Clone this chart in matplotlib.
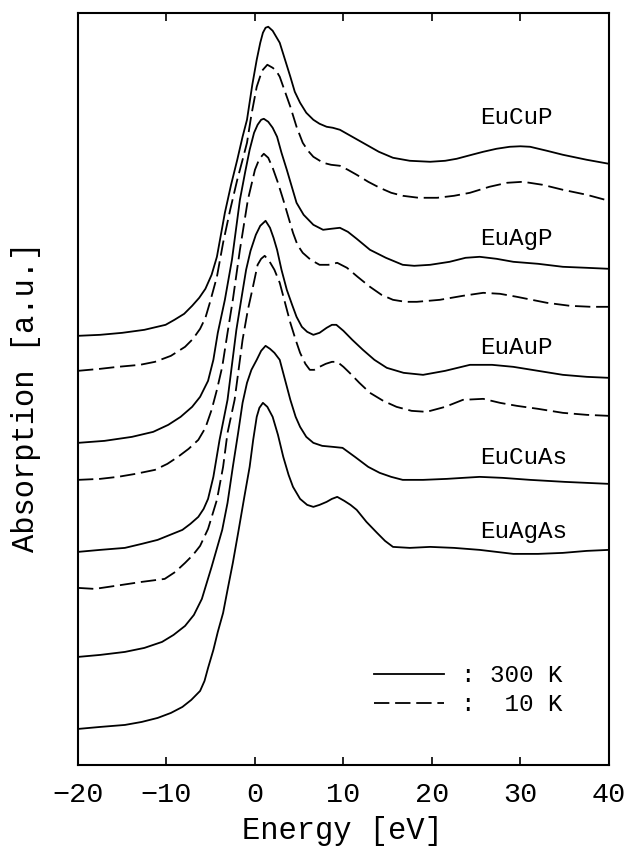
import matplotlib
matplotlib.use('Agg')
import matplotlib.pyplot as plt
from matplotlib.lines import Line2D

plt.rcParams['font.family'] = ['Liberation Mono', 'DejaVu Sans Mono']

# ── data (y in arbitrary units) ───────────────────────────────────────
compounds = ['EuCuP', 'EuAgP', 'EuAuP', 'EuCuAs', 'EuAgAs']
label_y = [647, 526, 417, 307, 233]

eucup_300_e = [-20, -17.5, -15, -12.5, -10.1, -9.1, -8, -7.1, -6.3, -5.6, -4.9, -4.3, -3.4, -2.7,
               -2.0, -1.4, -0.9, -0.3, 0.2, 0.6, 0.9, 1.2, 1.5, 2.0, 2.4, 2.8, 3.4, 4.0,
               4.5, 5.1, 5.8, 6.6, 7.3, 8.1, 8.8, 9.6, 10.8, 12.2, 14, 15.6, 17.5, 19.8,
               21.5, 22.8, 24.5, 25.8, 27.3, 28.8, 30, 31.1, 33, 34.8, 37.5, 40]
eucup_300_a = [429, 430, 432, 435, 440, 445, 451, 459, 467, 476, 490, 508, 552, 580,
               605, 628, 645, 680, 705, 722, 732, 737, 738, 734, 728, 722, 705, 688,
               673, 662, 652, 645, 641, 638, 637, 635, 629, 622, 613, 607, 604, 603,
               604, 606, 610, 613, 616, 618, 618.5, 618, 614, 610, 605, 601]

eucup_10_e = [-20, -17.5, -15.5, -13, -11.3, -9.5, -7.9, -7, -6.2, -5.6, -5.1, -4.3, -3.6, -2.8,
              -2, -1.4, -0.9, -0.4, 0.2, 0.8, 1.4, 2.0, 2.4, 2.8, 3.4, 4.0, 4.7, 5.4,
              6, 6.6, 7.7, 8.6, 9.6, 10.5, 11.5, 12.8, 14.1, 15.4, 16.7, 18.5, 20.6,
              22.5, 24.3, 26.5, 28.5, 30.3, 32.5, 34.8, 37.5, 40]
eucup_10_a = [394, 396, 398, 400, 403, 409, 418, 426, 436, 447, 462, 488, 522, 555,
              585, 605, 622, 650, 678, 694, 700, 697, 694, 688, 673, 658, 638, 622,
              614, 608, 602, 600, 599, 595, 590, 583, 577, 572, 569, 567, 567,
              569, 572, 578, 582, 583, 580, 575, 570, 564]

euagp_300_e = [-20, -17, -13.9, -11.5, -9.8, -8.4, -7.1, -6.2, -5.3, -4.7, -4.2, -3.4, -2.6, -1.7,
               -1.1, -0.6, -0.1, 0.3, 0.7, 1.0, 1.5, 2.0, 2.5, 3.0, 3.6, 4.2, 4.7, 5.5,
               6.6, 7.7, 8.6, 9.6, 10.5, 11.5, 13.0, 14.8, 16.7, 18, 19.8, 22, 23.8,
               25.4, 27.3, 29.2, 32, 34.8, 37.5, 40]
euagp_300_a = [322, 324, 328, 333, 340, 348, 358, 368, 384, 405, 432, 465, 505, 565,
               593, 615, 632, 640, 645, 646, 643, 637, 628, 612, 595, 577, 562, 550,
               540, 535, 536, 537, 533, 526, 515, 507, 500, 499, 500, 503, 507,
               508, 506, 503, 501, 498, 497, 496]

euagp_10_e = [-20, -17.5, -15.5, -13.5, -11.3, -9.9, -8.7, -7.5, -6.4, -5.6, -4.9, -4.3, -3.7,
              -3.1, -2.5, -1.7, -0.8, 0.0, 0.5, 1.0, 1.5, 2.0, 2.6, 3.2, 3.8, 4.3, 4.8,
              5.4, 6.3, 7.3, 8.3, 9.3, 10.4, 11.6, 13.0, 14.3, 15.6, 17, 18.3, 20.9,
              23.5, 25.8, 27.7, 29.6, 31.3, 33.0, 35.6, 38, 40]
euagp_10_a = [285, 286, 288, 291, 295, 301, 308, 316, 325, 337, 355, 375, 398,
              432, 465, 515, 565, 595, 606, 611, 607, 597, 582, 565, 547, 532, 520,
              512, 505, 500, 500, 502, 497, 488, 478, 470, 465, 463, 463, 465,
              469, 472, 471, 468, 465, 462, 459, 458, 458]

euaup_300_e = [-20, -17.5, -14.7, -12.8, -11.0, -9.6, -8.2, -7.3, -6.4, -5.8, -5.3, -4.7, -4.0,
               -3.1, -2.1, -1.5, -1.0, -0.5, 0.1, 0.6, 1.2, 1.7, 2.1, 2.5, 3.0, 3.6, 4.2,
               4.7, 5.3, 5.9, 6.6, 7.3, 8.1, 8.7, 9.2, 10.0, 11.0, 12.2, 13.5, 14.9,
               16.8, 19.0, 21.5, 24.3, 26.8, 29.2, 32, 34.8, 37.5, 40]
euaup_300_a = [213, 215, 217, 221, 225, 230, 235, 241, 248, 256, 266, 288, 325,
               365, 435, 468, 495, 514, 530, 539, 544, 537, 527, 515, 495, 475, 460,
               448, 438, 433, 430, 432, 437, 440, 440, 434, 425, 415, 405, 397,
               392, 390, 394, 400, 400, 398, 394, 390, 388, 387]

euaup_10_e = [-20, -18.1, -15.8, -12.8, -10.2, -9, -7.9, -7, -6.2, -5.3, -4.3, -3.6, -3.1,
              -2.3, -1.4, -0.8, -0.3, 0.3, 0.7, 1.1, 1.6, 2.2, 2.8, 3.4, 4.0, 4.6, 5.1,
              5.7, 6.2, 6.7, 7.3, 8.0, 8.7, 9.3, 10.0, 10.7, 11.8, 13.0, 14.5, 16.0,
              17.7, 19.4, 21.5, 23.5, 25.8, 27.7, 29.6, 32, 34.8, 37.5, 40]
euaup_10_a = [177, 176, 179, 183, 186, 193, 202, 210, 219, 236, 265, 298, 332,
              365, 425, 455, 475, 500, 506, 509, 504, 495, 482, 462, 442, 425, 412,
              401, 395, 395, 398, 401, 403, 403, 398, 392, 382, 372, 364, 358,
              354, 353, 358, 365, 366, 362, 359, 356, 352, 350, 349]

eucuas_300_e = [-20, -17.5, -14.7, -12.5, -10.5, -9.2, -7.9, -6.9, -6.0, -4.9, -3.7, -3.1, -2.5,
                -1.9, -1.4, -0.9, -0.4, 0.2, 0.7, 1.2, 1.7, 2.2, 2.8, 3.4, 4.0, 4.6, 5.1,
                5.8, 6.6, 7.6, 8.8, 9.9, 11.3, 12.8, 14.1, 15.4, 16.7, 19, 21.7, 23.5,
                25.4, 28, 31.1, 35, 40]
eucuas_300_a = [108, 110, 113, 117, 123, 130, 139, 150, 166, 198, 235, 262, 298,
                332, 362, 382, 395, 405, 414, 419, 416, 412, 405, 385, 365, 348, 338,
                328, 322, 319, 318, 317, 308, 298, 292, 288, 285, 285, 286, 287,
                288, 287, 285, 283, 281]

euagas_300_e = [-20, -17.5, -14.7, -12.8, -11.0, -9.5, -8.2, -7.2, -6.2, -5.7, -5.3, -4.7, -4.2,
                -3.6, -3.1, -2.5, -1.9, -1.2, -0.6, -0.2, 0.2, 0.5, 0.9, 1.4, 2.0, 2.6,
                3.2, 3.8, 4.3, 5.1, 5.9, 6.6, 7.3, 8.1, 8.7, 9.3, 10.1, 10.8, 11.5,
                12.6, 13.8, 14.7, 15.6, 17.5, 19.8, 22.5, 25.4, 27.3, 29.2, 32, 34.8,
                37.5, 40]
euagas_300_a = [36, 38, 40, 43, 47, 52, 58, 65, 74, 84, 97, 115, 133,
                152, 175, 202, 232, 268, 298, 325, 348, 357, 362, 358, 348, 330,
                308, 290, 278, 266, 260, 258, 260, 263, 266, 268, 264, 260, 255,
                243, 232, 224, 218, 217, 218, 217, 215, 213, 211, 211, 212,
                214, 215]

solid = [(eucup_300_e, eucup_300_a), (euagp_300_e, euagp_300_a), (euaup_300_e, euaup_300_a),
         (eucuas_300_e, eucuas_300_a), (euagas_300_e, euagas_300_a)]
dashed = [(eucup_10_e, eucup_10_a), (euagp_10_e, euagp_10_a), (euaup_10_e, euaup_10_a)]

# ── figure ──────────────────────────────────────────────────────────
fig = plt.figure(figsize=(6.29, 8.49), dpi=100)
ax = fig.add_axes([0.124, 0.099, 0.844, 0.886])

for e, a in solid:
    ax.plot(e, a, color='black', lw=1.3)
for e, a in dashed:
    ax.plot(e, a, color='black', lw=1.3, dashes=(8.5, 3.2))

for name, y in zip(compounds, label_y):
    ax.text(25.4, y, name, fontsize=17.5, ha='left', va='center')

# legend
handles = [Line2D([], [], color='black', lw=1.3),
           Line2D([], [], color='black', lw=1.3, dashes=(8.5, 3.2))]
ax.legend(handles, [': 300 K', ':  10 K'], loc='upper left',
          bbox_to_anchor=(0.557, 0.134), frameon=False, borderpad=0,
          borderaxespad=0, handlelength=2.9, handletextpad=0.7,
          labelspacing=0.25, prop={'size': 17.5})

ax.set_xlim(-20, 40)
ax.set_ylim(0, 752)
ax.set_xticks([-20, -10, 0, 10, 20, 30, 40])
ax.set_yticks([])
ax.tick_params(axis='x', direction='in', top=True, length=6, width=1.2,
               pad=12, labelsize=20.5)
for s in ax.spines.values():
    s.set_linewidth(1.5)

fig.text(0.545, 0.021, 'Energy [eV]', fontsize=22, ha='center', va='center')
fig.text(0.041, 0.532, 'Absorption [a.u.]', fontsize=22, rotation=90,
         ha='center', va='center')

fig.savefig('out.png', dpi=100)
